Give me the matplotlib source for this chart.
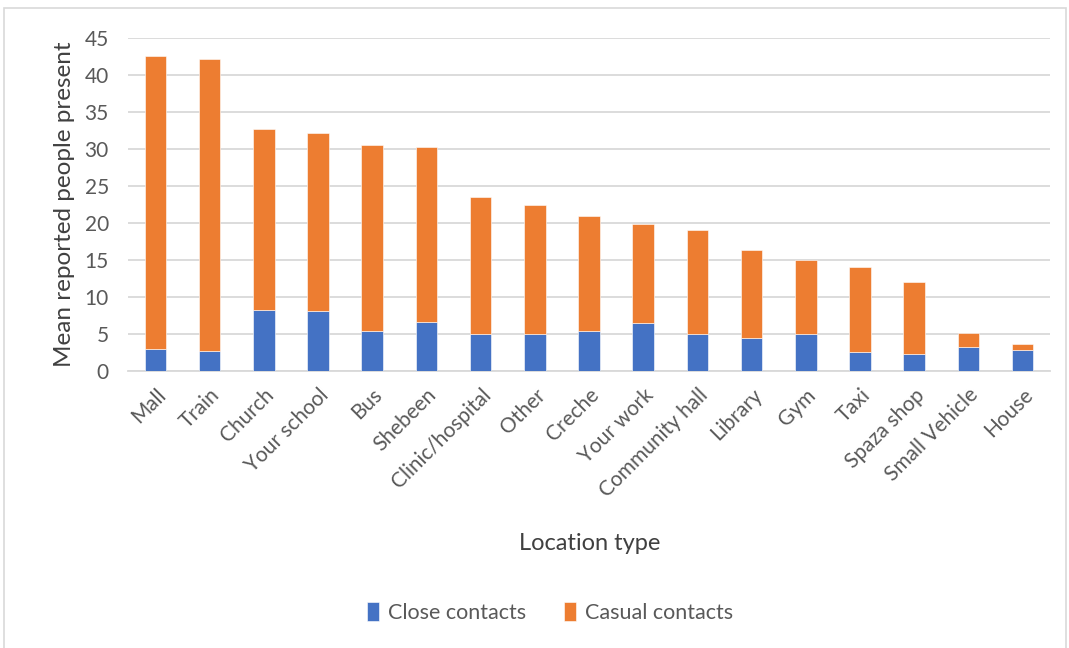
import numpy as np
import matplotlib.pyplot as plt
from matplotlib.patches import Rectangle

plt.rcParams['font.family'] = ['Lato', 'DejaVu Sans']

locations = ['Mall', 'Train', 'Church', 'Your school', 'Bus', 'Shebeen',
             'Clinic/hospital', 'Other', 'Creche', 'Your work', 'Community hall',
             'Library', 'Gym', 'Taxi', 'Spaza shop', 'Small Vehicle', 'House']
totals = [42.6, 42.2, 32.7, 32.2, 30.6, 30.3, 23.5, 22.5, 20.9, 19.9, 19.0,
          16.4, 15.0, 14.1, 12.1, 5.2, 3.6]
close = [3.0, 2.65, 8.2, 8.05, 5.45, 6.65, 4.95, 5.0, 5.35, 6.55, 5.0,
         4.5, 5.0, 2.6, 2.25, 3.25, 2.9]
casual = [t - c for t, c in zip(totals, close)]

blue = '#4472C4'
orange = '#ED7D31'
grey = '#595959'
dark = '#404040'

fig = plt.figure(figsize=(10.69, 6.48), dpi=100)
ax = fig.add_axes([0.12, 0.4275, 0.862, 0.5135])

# chart area border
fig.patches.append(Rectangle((0.004, -0.01), 0.993, 0.998, transform=fig.transFigure,
                             fill=False, edgecolor='#D9D9D9', linewidth=1.2))

ind = np.arange(len(locations))
width = 0.4
b1 = ax.bar(ind, close, width, color=blue, edgecolor='white', linewidth=0.4, zorder=3)
b2 = ax.bar(ind, casual, width, bottom=close, color=orange, edgecolor='white',
            linewidth=0.4, zorder=3)

ax.set_xlim(-0.5, len(locations) - 0.5)
ax.set_ylim(0, 45)
ax.set_yticks(np.arange(0, 46, 5))
ax.yaxis.grid(True, color='#D9D9D9', linewidth=1.3, zorder=0)
for s in ['top', 'right', 'left']:
    ax.spines[s].set_visible(False)
ax.spines['bottom'].set_color('#D9D9D9')
ax.spines['bottom'].set_linewidth(1.3)
ax.tick_params(axis='both', length=0, colors=grey, labelsize=15)
ax.tick_params(axis='y', pad=14)
ax.tick_params(axis='x', pad=10)
ax.set_xticks(ind)
ax.set_xticklabels(locations, rotation=45, ha='right', rotation_mode='anchor')

ax.set_ylabel('Mean reported people present', fontsize=17.5, color=dark)
ax.yaxis.set_label_coords(-0.058, 0.5)
fig.text(590 / 1069, 1 - 543 / 648, 'Location type', fontsize=17, color=dark,
         ha='center', va='center')

ax.legend((b1[0], b2[0]), ('Close contacts', 'Casual contacts'), loc='center',
          bbox_to_anchor=(0.5145, 0.055), bbox_transform=fig.transFigure, ncol=2,
          frameon=False, fontsize=15.5, labelcolor=grey, handlelength=0.55,
          handleheight=1.0, columnspacing=1.8, handletextpad=0.4)

fig.savefig('out.png', dpi=100)
